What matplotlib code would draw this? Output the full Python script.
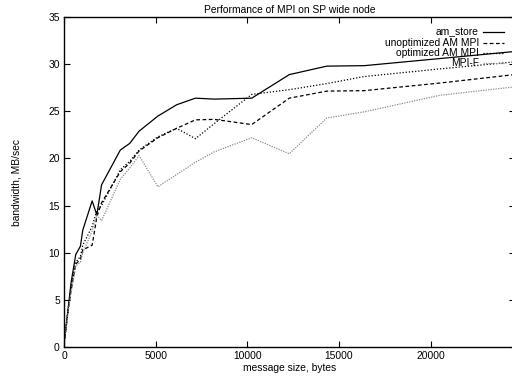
import matplotlib
matplotlib.use('Agg')
import matplotlib.pyplot as plt

# message sizes (bytes) and bandwidth (MB/sec)
sizes = [0, 256, 384, 640, 896, 1024, 1536, 1792, 2048, 3072, 3584, 4096,
         5120, 6144, 7168, 8192, 10240, 12288, 14336, 16384, 20480, 24576]
am_store = [0.3, 4.6, 6.8, 9.8, 10.7, 12.4, 15.5, 14.0, 17.2, 20.9, 21.6, 22.9,
            24.5, 25.7, 26.4, 26.3, 26.4, 28.9, 29.8, 29.85, 30.6, 31.35]
unopt_mpi = [0.3, 4.3, 6.0, 8.8, 9.3, 10.3, 10.8, 13.8, 15.3, 18.6, 19.5, 20.8,
             22.2, 23.2, 24.1, 24.15, 23.6, 26.4, 27.15, 27.2, 28.0, 28.9]
opt_mpi = [0.3, 4.5, 6.2, 9.0, 9.6, 10.8, 12.8, 14.5, 15.0, 18.8, 19.7, 20.9,
           22.3, 23.2, 22.1, 23.7, 26.8, 27.3, 27.95, 28.7, 29.5, 30.25]
mpi_f = [0.3, 4.2, 5.8, 8.6, 9.0, 10.0, 12.3, 14.0, 13.4, 17.8, 19.0, 20.3,
         17.0, 18.3, 19.6, 20.7, 22.2, 20.5, 24.3, 24.95, 26.7, 27.6]

labels = ['am_store', 'unoptimized AM MPI', 'optimized AM MPI', 'MPI-F']
series = [am_store, unopt_mpi, opt_mpi, mpi_f]
styles = [dict(color='black', linestyle='-', linewidth=0.9),
          dict(color='black', linestyle=(0, (3, 2)), linewidth=0.9),
          dict(color='black', linestyle=(0, (1, 1.5)), linewidth=0.9),
          dict(color='#8c8c8c', linestyle=(0, (1, 1)), linewidth=0.9)]

plt.rcParams['font.family'] = ['Liberation Sans', 'DejaVu Sans']
plt.rcParams['font.size'] = 7.4

fig = plt.figure(figsize=(5.12, 3.77), dpi=100)
ax = fig.add_axes([0.125, 0.0796, 0.88, 0.875])

for ys, st in zip(series, styles):
    ax.plot(sizes, ys, **st)

# gnuplot style key: text right-aligned, sample line after it
key_y = [0.9536, 0.923, 0.890, 0.860]
for lab, st, yk in zip(labels, styles, key_y):
    ax.text(0.921, yk, lab, ha='right', va='center', transform=ax.transAxes)
    ax.plot([0.930, 0.977], [yk, yk], transform=ax.transAxes, **st)

ax.set_xlim(0, 24576)
ax.set_ylim(0, 35)
ax.set_xticks([0, 5000, 10000, 15000, 20000])
ax.set_yticks(range(0, 36, 5))
ax.tick_params(direction='in', length=4, width=0.8, top=True, right=True, pad=3)
for sp in ax.spines.values():
    sp.set_linewidth(1.0)

ax.set_title('Performance of MPI on SP wide node', fontsize=7.4, pad=3)
ax.set_xlabel('message size, bytes', labelpad=1)
ax.set_ylabel('bandwidth, MB/sec', labelpad=19)

fig.savefig('out.png', dpi=100)
